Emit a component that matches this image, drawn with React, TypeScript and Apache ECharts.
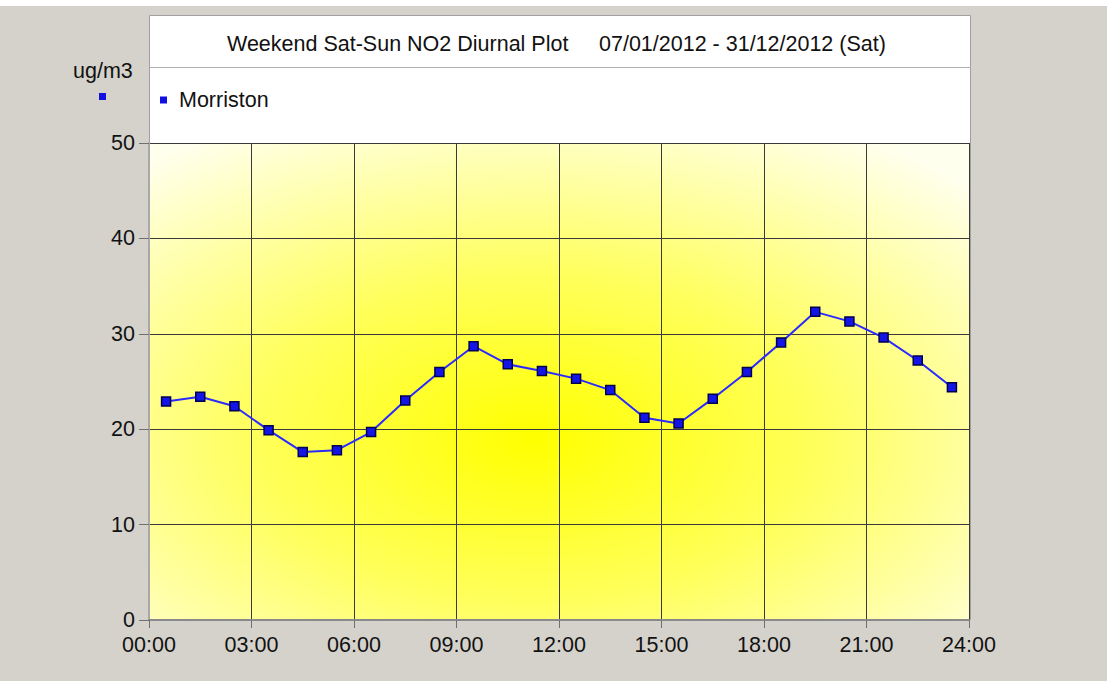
import React, { useEffect, useRef } from "react";
import * as echarts from "echarts";

const hours = [0.5, 1.5, 2.5, 3.5, 4.5, 5.5, 6.5, 7.5, 8.5, 9.5, 10.5, 11.5, 12.5, 13.5, 14.5, 15.5, 16.5, 17.5, 18.5, 19.5, 20.5, 21.5, 22.5, 23.5];
const morriston = [22.9, 23.4, 22.4, 19.9, 17.6, 17.8, 19.7, 23.0, 26.0, 28.7, 26.8, 26.1, 25.3, 24.1, 21.2, 20.6, 23.2, 26.0, 29.1, 32.3, 31.3, 29.6, 27.2, 24.4];
const titleLeft = "Weekend Sat-Sun NO2 Diurnal Plot";
const titleRight = "07/01/2012 - 31/12/2012 (Sat)";
const seriesName = "Morriston";
const unitLabel = "ug/m3";

export default function App() {
  const ref = useRef<HTMLDivElement>(null);
  useEffect(() => {
    const chart = echarts.init(ref.current!, null, { renderer: "svg" });
    const font = "Liberation Sans, Arial, sans-serif";
    const fs = 21.5;
    chart.setOption({
      animation: false,
      backgroundColor: "#d5d2cc",
      textStyle: { fontFamily: font },
      grid: {
        left: 149,
        right: 138,
        top: 143,
        bottom: 61,
        show: true,
        borderWidth: 0,
        backgroundColor: new echarts.graphic.RadialGradient(0.47, 0.62, 0.75, [
          { offset: 0, color: "#ffff00" },
          { offset: 0.45, color: "#ffff5a" },
          { offset: 1, color: "#ffffee" },
        ]),
      },
      legend: {
        left: 155,
        top: 84,
        itemWidth: 7,
        itemHeight: 7,
        icon: "rect",
        itemStyle: { borderWidth: 0, color: "#1010e0" },
        textStyle: { fontSize: fs, color: "#111", fontFamily: font, padding: [0, 0, 0, 7] },
        data: [seriesName],
      },
      graphic: [
        {
          type: "rect",
          z: -10,
          shape: { x: 0, y: 0, width: 1107, height: 6 },
          style: { fill: "#ffffff" },
        },
        {
          type: "rect",
          z: -10,
          shape: { x: 149.5, y: 15.5, width: 821, height: 604 },
          style: { fill: "#ffffff", stroke: "#a0a0a0", lineWidth: 1 },
        },
        {
          type: "line",
          z: -9,
          shape: { x1: 150, y1: 67.5, x2: 971, y2: 67.5 },
          style: { stroke: "#b0b0b0", lineWidth: 1 },
        },
        {
          type: "text",
          x: 227,
          y: 44,
          style: { text: titleLeft, fontSize: fs, fill: "#111", fontFamily: font, verticalAlign: "middle" },
        },
        {
          type: "text",
          x: 599,
          y: 44,
          style: { text: titleRight, fontSize: fs, fill: "#111", fontFamily: font, verticalAlign: "middle" },
        },
        {
          type: "text",
          x: 73,
          y: 71,
          style: { text: unitLabel, fontSize: fs, fill: "#111", fontFamily: font, verticalAlign: "middle" },
        },
        {
          type: "rect",
          shape: { x: 99, y: 93, width: 7, height: 7 },
          style: { fill: "#1010e0" },
        },
      ],
      xAxis: {
        type: "value",
        min: 0,
        max: 24,
        interval: 3,
        axisLine: { show: true, lineStyle: { color: "#8a8a8a", width: 2 } },
        axisTick: { show: true, length: 8, lineStyle: { color: "#707070" } },
        axisLabel: {
          fontSize: fs,
          color: "#111",
          margin: 14,
          formatter: (v: number) => (v < 10 ? "0" + v : "" + v) + ":00",
        },
        splitLine: { show: true, lineStyle: { color: "#3a3a3a", width: 1 } },
      },
      yAxis: {
        type: "value",
        min: 0,
        max: 50,
        interval: 10,
        axisLine: { show: true, lineStyle: { color: "#a8a8a8", width: 2 } },
        axisTick: { show: true, length: 10, lineStyle: { color: "#707070" } },
        axisLabel: { fontSize: fs, color: "#111", margin: 14 },
        splitLine: { show: true, lineStyle: { color: "#3a3a3a", width: 1 } },
      },
      series: [
        {
          name: seriesName,
          type: "line",
          data: hours.map((h, i) => [h, morriston[i]]),
          symbol: "rect",
          symbolSize: 9,
          lineStyle: { color: "#2a2aff", width: 2 },
          itemStyle: { color: "#1414e6", borderColor: "#000050", borderWidth: 1.5 },
        },
      ],
    });
    return () => chart.dispose();
  }, []);
  return (
    <div
      ref={ref}
      style={{ position: "absolute", left: 0, top: 0, width: 1107, height: 681 }}
    />
  );
}
